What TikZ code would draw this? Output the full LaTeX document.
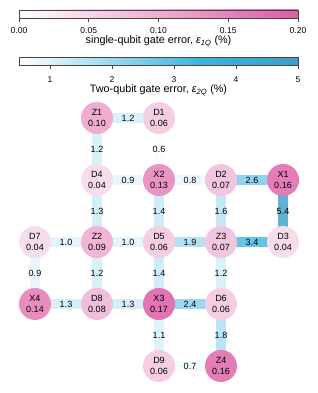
\documentclass[tikz,border=0pt]{standalone}
\usepackage{fontspec}
\setmainfont{Liberation Sans}
\usetikzlibrary{backgrounds}

\definecolor{pinkmax}{RGB}{221,92,164}
\definecolor{bluemid}{RGB}{58,180,226}
\definecolor{blueend}{RGB}{58,158,200}
\definecolor{barframe}{RGB}{70,70,70}

\pgfdeclarehorizontalshading{bluebar}{100bp}{color(0bp)=(white); color(25bp)=(white); color(57.5bp)=(bluemid); color(75bp)=(blueend); color(100bp)=(blueend)}

\tikzset{
qubit/.style={circle, minimum size=32pt, inner sep=0pt, align=center, font=\fontsize{9}{10.5}\selectfont},
coupler/.style={line width=10.5pt},
errlabel/.style={inner sep=0pt, font=\fontsize{9}{10}\selectfont},
barlabel/.style={inner sep=0pt, anchor=base, font=\fontsize{8.5}{10}\selectfont},
bartitle/.style={inner sep=0pt, anchor=base, font=\fontsize{10.8}{12}\selectfont},
bartick/.style={barframe, line width=0.7pt}
}

\begin{document}
\begin{tikzpicture}[x=1pt,y=-1pt]
\useasboundingbox (0,0) rectangle (318,393);

% Colorbar single-qubit
\shade[left color=white, right color=pinkmax] (19,10) rectangle (298,18.5);
\draw[bartick] (19,10) rectangle (298,18.5);
\foreach \v [count=\i] in {0.00,0.05,0.10,0.15,0.20}
{
\pgfmathsetmacro\xx{19+\v*1395}
\draw[bartick] (\xx,18.5) -- (\xx,22);
\node[barlabel] (sq\i) at (\xx,34) {\v};
}
\node[bartitle] (sqtitle) at (158.5,43.5)
{single-qubit gate error, {\itshape ε\textsubscript{1Q}} (\%)};

% Colorbar two-qubit
\shade[shading=bluebar] (19,57.5) rectangle (298,65.5);
\draw[bartick] (19,57.5) rectangle (298,65.5);
\foreach \v in {1,2,3,4,5}
{
\pgfmathsetmacro\xx{19+(\v-0.5)*62}
\draw[bartick] (\xx,65.5) -- (\xx,69);
\node[barlabel] (tq\v) at (\xx,82.5) {\v};
}
\node[bartitle] (tqtitle) at (158.5,92.5)
{Two-qubit gate error, {\itshape ε\textsubscript{2Q}} (\%)};

% Qubits
\foreach \n/\x/\y/\e in {
Z1/97/118/0.10,
D1/159/118/0.06,
D4/97/180/0.04,
X2/159/180/0.13,
D2/221/180/0.07,
X1/283/180/0.16,
D7/35/242/0.04,
Z2/97/242/0.09,
D5/159/242/0.06,
Z3/221/242/0.07,
D3/283/242/0.04,
X4/35/304/0.14,
D8/97/304/0.08,
X3/159/304/0.17,
D6/221/304/0.06,
D9/159/366/0.06,
Z4/221/366/0.16
}
{
\pgfmathsetmacro\p{min(\e*500,100)}
\node[qubit, fill=pinkmax!\p!white] (\n) at (\x,\y) {\n\\\e};
}

% Couplers
\begin{pgfonlayer}{background}
\foreach \a/\b/\v in {
Z1/D1/1.2, Z1/D4/1.2, D1/X2/0.6,
D4/X2/0.9, X2/D2/0.8, D2/X1/2.6,
D4/Z2/1.3, X2/D5/1.4, D2/Z3/1.6, X1/D3/5.4,
D7/Z2/1.0, Z2/D5/1.0, D5/Z3/1.9, Z3/D3/3.4,
D7/X4/0.9, Z2/D8/1.2, D5/X3/1.4, Z3/D6/1.2,
X4/D8/1.3, D8/X3/1.3, X3/D6/2.4,
X3/D9/1.1, D6/Z4/1.8, D9/Z4/0.7
}
{
\pgfmathsetmacro\t{min(max((\v-0.5)/4.5,0),1)}
\pgfmathtruncatemacro\hi{\t>0.65}
\ifnum\hi=1
\pgfmathsetmacro\p{(\t-0.65)/0.35*100}
\colorlet{ec}{blueend!\p!bluemid}
\else
\pgfmathsetmacro\p{\t/0.65*100}
\colorlet{ec}{bluemid!\p!white}
\fi
\draw[coupler, draw=ec!80!white] (\a.center) -- (\b.center)
node[errlabel, midway] (e\a\b) {\v};
}
\end{pgfonlayer}

\end{tikzpicture}
\end{document}
